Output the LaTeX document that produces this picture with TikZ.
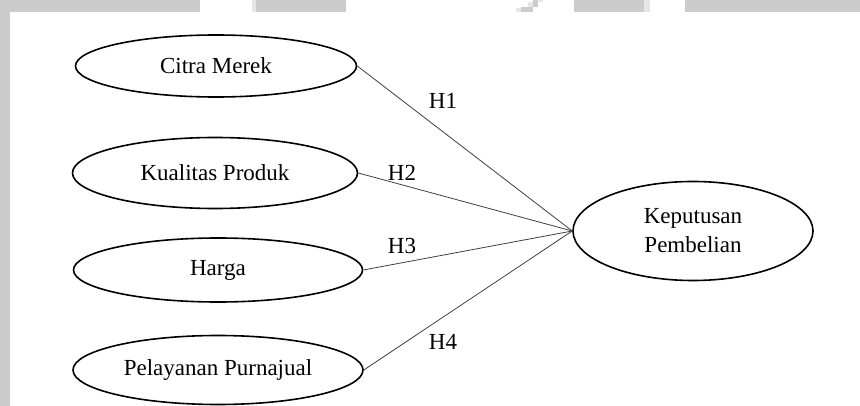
\documentclass[tikz,border=0pt]{standalone}
\usepackage{fontspec}
\setmainfont{Liberation Serif}
\usetikzlibrary{shapes.geometric}
\definecolor{bargray}{HTML}{CCCCCC}
\definecolor{lightbar}{HTML}{E6E6E6}
\definecolor{linegray}{HTML}{404040}
\tikzset{
  var/.style={draw=black, line width=1.6pt, ellipse, inner sep=0pt, align=center,
    font=\fontsize{23}{29}\selectfont},
  hlabel/.style={inner sep=0pt, font=\fontsize{23}{29}\selectfont},
  path/.style={draw=linegray, line width=0.8pt},
  bar/.style={fill=bargray, draw=none},
  lbar/.style={fill=lightbar, draw=none}
}
\begin{document}
\begin{tikzpicture}[x=1pt, y=-1pt]
\useasboundingbox (0,0) rectangle (860,406);
\fill[white] (0,0) rectangle (860,406);
% scan artefacts
\path[bar] (0,0) rectangle (200,12);
\path[lbar] (252,0) rectangle (256,12);
\path[bar] (256,0) rectangle (346,12);
\path[bar] (0,0) rectangle (10,406);
\path[lbar] (516,8) rectangle (522,12);
\path[bar] (521,7) rectangle (533,12);
\path[lbar] (528,2) rectangle (533,7);
\path[bar] (533,0) rectangle (538,7);
\path[lbar] (538,0) rectangle (543,2);
\path[bar] (574,0) rectangle (644,12);
\path[lbar] (644,0) rectangle (650,12);
\path[bar] (685,0) rectangle (860,12);
% nodes
\node[var, minimum width=281pt, minimum height=62pt] (cm) at (216,66) {Citra Merek};
\node[var, minimum width=285pt, minimum height=71pt] (kp) at (215,173) {Kualitas Produk};
\node[var, minimum width=289pt, minimum height=64pt] (hg) at (218,270) {Harga};
\node[var, minimum width=290pt, minimum height=69pt] (pp) at (218,370) {Pelayanan Purnajual};
\node[var, minimum width=240pt, minimum height=99pt] (kb) at (693,231) {Keputusan\\Pembelian};
% connectors
\draw[path] (cm.east) -- (kb.west);
\draw[path] (kp.east) -- (kb.west);
\draw[path] (hg.east) -- (kb.west);
\draw[path] (pp.east) -- (kb.west);
% labels
\node[hlabel] (h1) at (443,101) {H1};
\node[hlabel] (h2) at (402,173) {H2};
\node[hlabel] (h3) at (402,246) {H3};
\node[hlabel] (h4) at (443,342) {H4};
\end{tikzpicture}
\end{document}
